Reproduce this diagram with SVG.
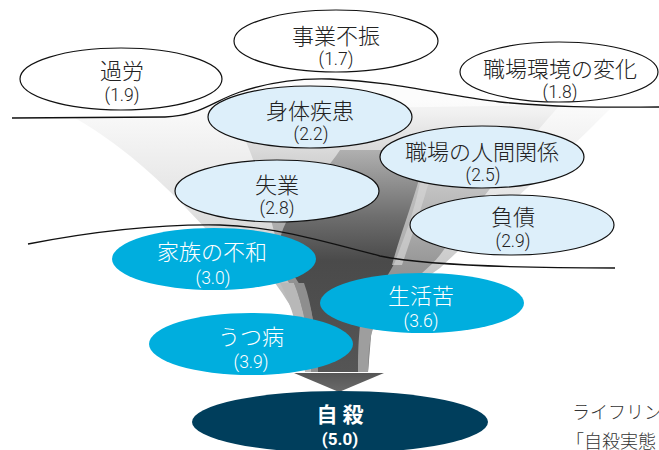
<svg xmlns="http://www.w3.org/2000/svg" width="659" height="450" viewBox="0 0 659 450">
<style>
.w{fill:#fff;stroke:#111;stroke-width:1.2}
.lb{fill:#ddeffa;stroke:#111;stroke-width:1.2}
.cy{fill:#00aede}
.nv{fill:#003e5c}
text{text-anchor:middle}
.t,.tw{font-family:"Noto Sans CJK JP","Noto Sans",sans-serif;font-size:22px;font-weight:300;fill:#222}
.n,.nw{font-family:Roboto,"Liberation Sans",sans-serif;font-size:17.5px;font-weight:300;fill:#222}
.tw,.nw{fill:#fff}
.line{fill:none;stroke:#111;stroke-width:1.3}
</style>
<defs>
<linearGradient id="gOuter" gradientUnits="userSpaceOnUse" x1="0" y1="100" x2="0" y2="372">
<stop offset="0" stop-color="#fcfcfc"/><stop offset="0.4" stop-color="#e2e2e2"/><stop offset="0.75" stop-color="#b8b8b8"/><stop offset="1" stop-color="#9a9a9a"/>
</linearGradient>
<linearGradient id="gMid" gradientUnits="userSpaceOnUse" x1="0" y1="110" x2="0" y2="372">
<stop offset="0" stop-color="#f2f2f2"/><stop offset="0.3" stop-color="#c2c2c2"/><stop offset="0.6" stop-color="#959595"/><stop offset="1" stop-color="#808080"/>
</linearGradient>
<linearGradient id="gCore" gradientUnits="userSpaceOnUse" x1="0" y1="150" x2="0" y2="372">
<stop offset="0" stop-color="#b0b0b0"/><stop offset="0.3" stop-color="#6e6e6e"/><stop offset="0.5" stop-color="#4a4a4a"/><stop offset="1" stop-color="#555"/>
</linearGradient>
<linearGradient id="gHead" gradientUnits="userSpaceOnUse" x1="0" y1="372" x2="0" y2="392">
<stop offset="0" stop-color="#555"/><stop offset="1" stop-color="#6a6a6a"/>
</linearGradient>
</defs>

<g id="funnel">
<path d="M75,118 L165,117 C200,116 215,100 240,92 C270,82 300,78 330,79 C400,82 440,95 500,102 C540,106 580,107 612,107 C560,160 480,230 440,268 C410,290 375,310 370,340 L368,372 L316,372 C310,340 295,310 275,283 C250,255 230,245 205,228 C170,190 130,150 75,118 Z" fill="url(#gOuter)"/>
<path d="M230,110 L560,105 C520,150 480,200 440,255 C420,280 380,300 372,325 L368,372 L318,372 C312,330 300,300 286,278 C270,220 260,160 230,110 Z" fill="url(#gMid)"/>
<path d="M340,150 L425,150 C420,200 405,235 395,262 C382,288 366,302 361,330 L358,372 L318,372 C316,330 312,300 300,285 C290,270 282,255 280,240 C285,210 320,180 340,150 Z" fill="url(#gCore)"/>
<path d="M426,155 L436,155 C425,200 412,235 402,265 L392,265 C400,235 414,200 426,155 Z" fill="#d4d4d4" opacity="0.7"/>
<path d="M280,283 C292,305 300,335 305,372 L311,372 C309,335 303,305 294,283 Z" fill="#b8b8b8"/>
<path d="M294,283 C303,305 309,335 311,372 L318,372 C316,335 312,305 304,283 Z" fill="#8e8e8e"/>
<path d="M360,325 C358,345 358,358 358,372 L368,372 C368,352 370,338 374,322 Z" fill="#9e9e9e"/>
<polygon points="294,373 384,373 339,392" fill="url(#gHead)"/>
</g>

<g id="connectors">
<path class="line" d="M12,118 L165,117 C200,116 215,100 240,92 C270,82 300,78 330,79 C400,82 440,95 500,102 C560,108 610,107 659,107"/>
<path class="line" d="M28,244 C90,232 160,224 220,225 C270,226 320,240 380,256 C430,266 520,268 615,268"/>
</g>

<g id="n1"><ellipse class="w" cx="121" cy="79" rx="101" ry="31"/><text class="t" x="122" y="79">過労</text><text class="n" x="122" y="101">(1.9)</text></g>
<g id="n2"><ellipse class="w" cx="336" cy="41" rx="102" ry="31"/><text class="t" x="336" y="44">事業不振</text><text class="n" x="336" y="65">(1.7)</text></g>
<g id="n3"><ellipse class="w" cx="559" cy="72" rx="99" ry="30"/><text class="t" x="560" y="77">職場環境の変化</text><text class="n" x="560" y="98">(1.8)</text></g>
<g id="n4"><ellipse class="lb" cx="310" cy="117" rx="102" ry="31"/><text class="t" x="310" y="119">身体疾患</text><text class="n" x="311" y="140">(2.2)</text></g>
<g id="n5"><ellipse class="lb" cx="482" cy="157" rx="102" ry="31"/><text class="t" x="482" y="160">職場の人間関係</text><text class="n" x="483" y="181">(2.5)</text></g>
<g id="n6"><ellipse class="lb" cx="277" cy="191" rx="102" ry="31"/><text class="t" x="277" y="193">失業</text><text class="n" x="277" y="214">(2.8)</text></g>
<g id="n7"><ellipse class="lb" cx="512" cy="225" rx="102" ry="30"/><text class="t" x="513" y="225">負債</text><text class="n" x="513" y="247">(2.9)</text></g>
<g id="n8"><ellipse class="cy" cx="214" cy="259" rx="102" ry="31"/><text class="tw" x="212" y="260">家族の不和</text><text class="nw" x="213" y="284">(3.0)</text></g>
<g id="n9"><ellipse class="cy" cx="422" cy="303" rx="102" ry="30"/><text class="tw" x="421" y="304">生活苦</text><text class="nw" x="421" y="327">(3.6)</text></g>
<g id="n10"><ellipse class="cy" cx="251" cy="344" rx="102" ry="31"/><text class="tw" x="251" y="345">うつ病</text><text class="nw" x="251" y="368">(3.9)</text></g>
<g id="n11"><ellipse class="nv" cx="340" cy="422" rx="148" ry="31"/><text x="340" y="422" style="font-family:'Noto Sans CJK JP',sans-serif;font-size:21px;font-weight:bold;fill:#fff">自 殺</text><text x="340" y="445" style="font-family:Roboto,'Liberation Sans',sans-serif;font-size:17px;font-weight:bold;fill:#fff">(5.0)</text></g>

<g id="source">
<text x="572" y="419" style="font-family:'Noto Sans CJK JP',sans-serif;font-weight:300;font-size:18px;fill:#333;text-anchor:start">ライフリン</text>
<text x="566" y="448" style="font-family:'Noto Sans CJK JP',sans-serif;font-weight:300;font-size:18px;fill:#333;text-anchor:start">「自殺実態</text>
</g>
</svg>
